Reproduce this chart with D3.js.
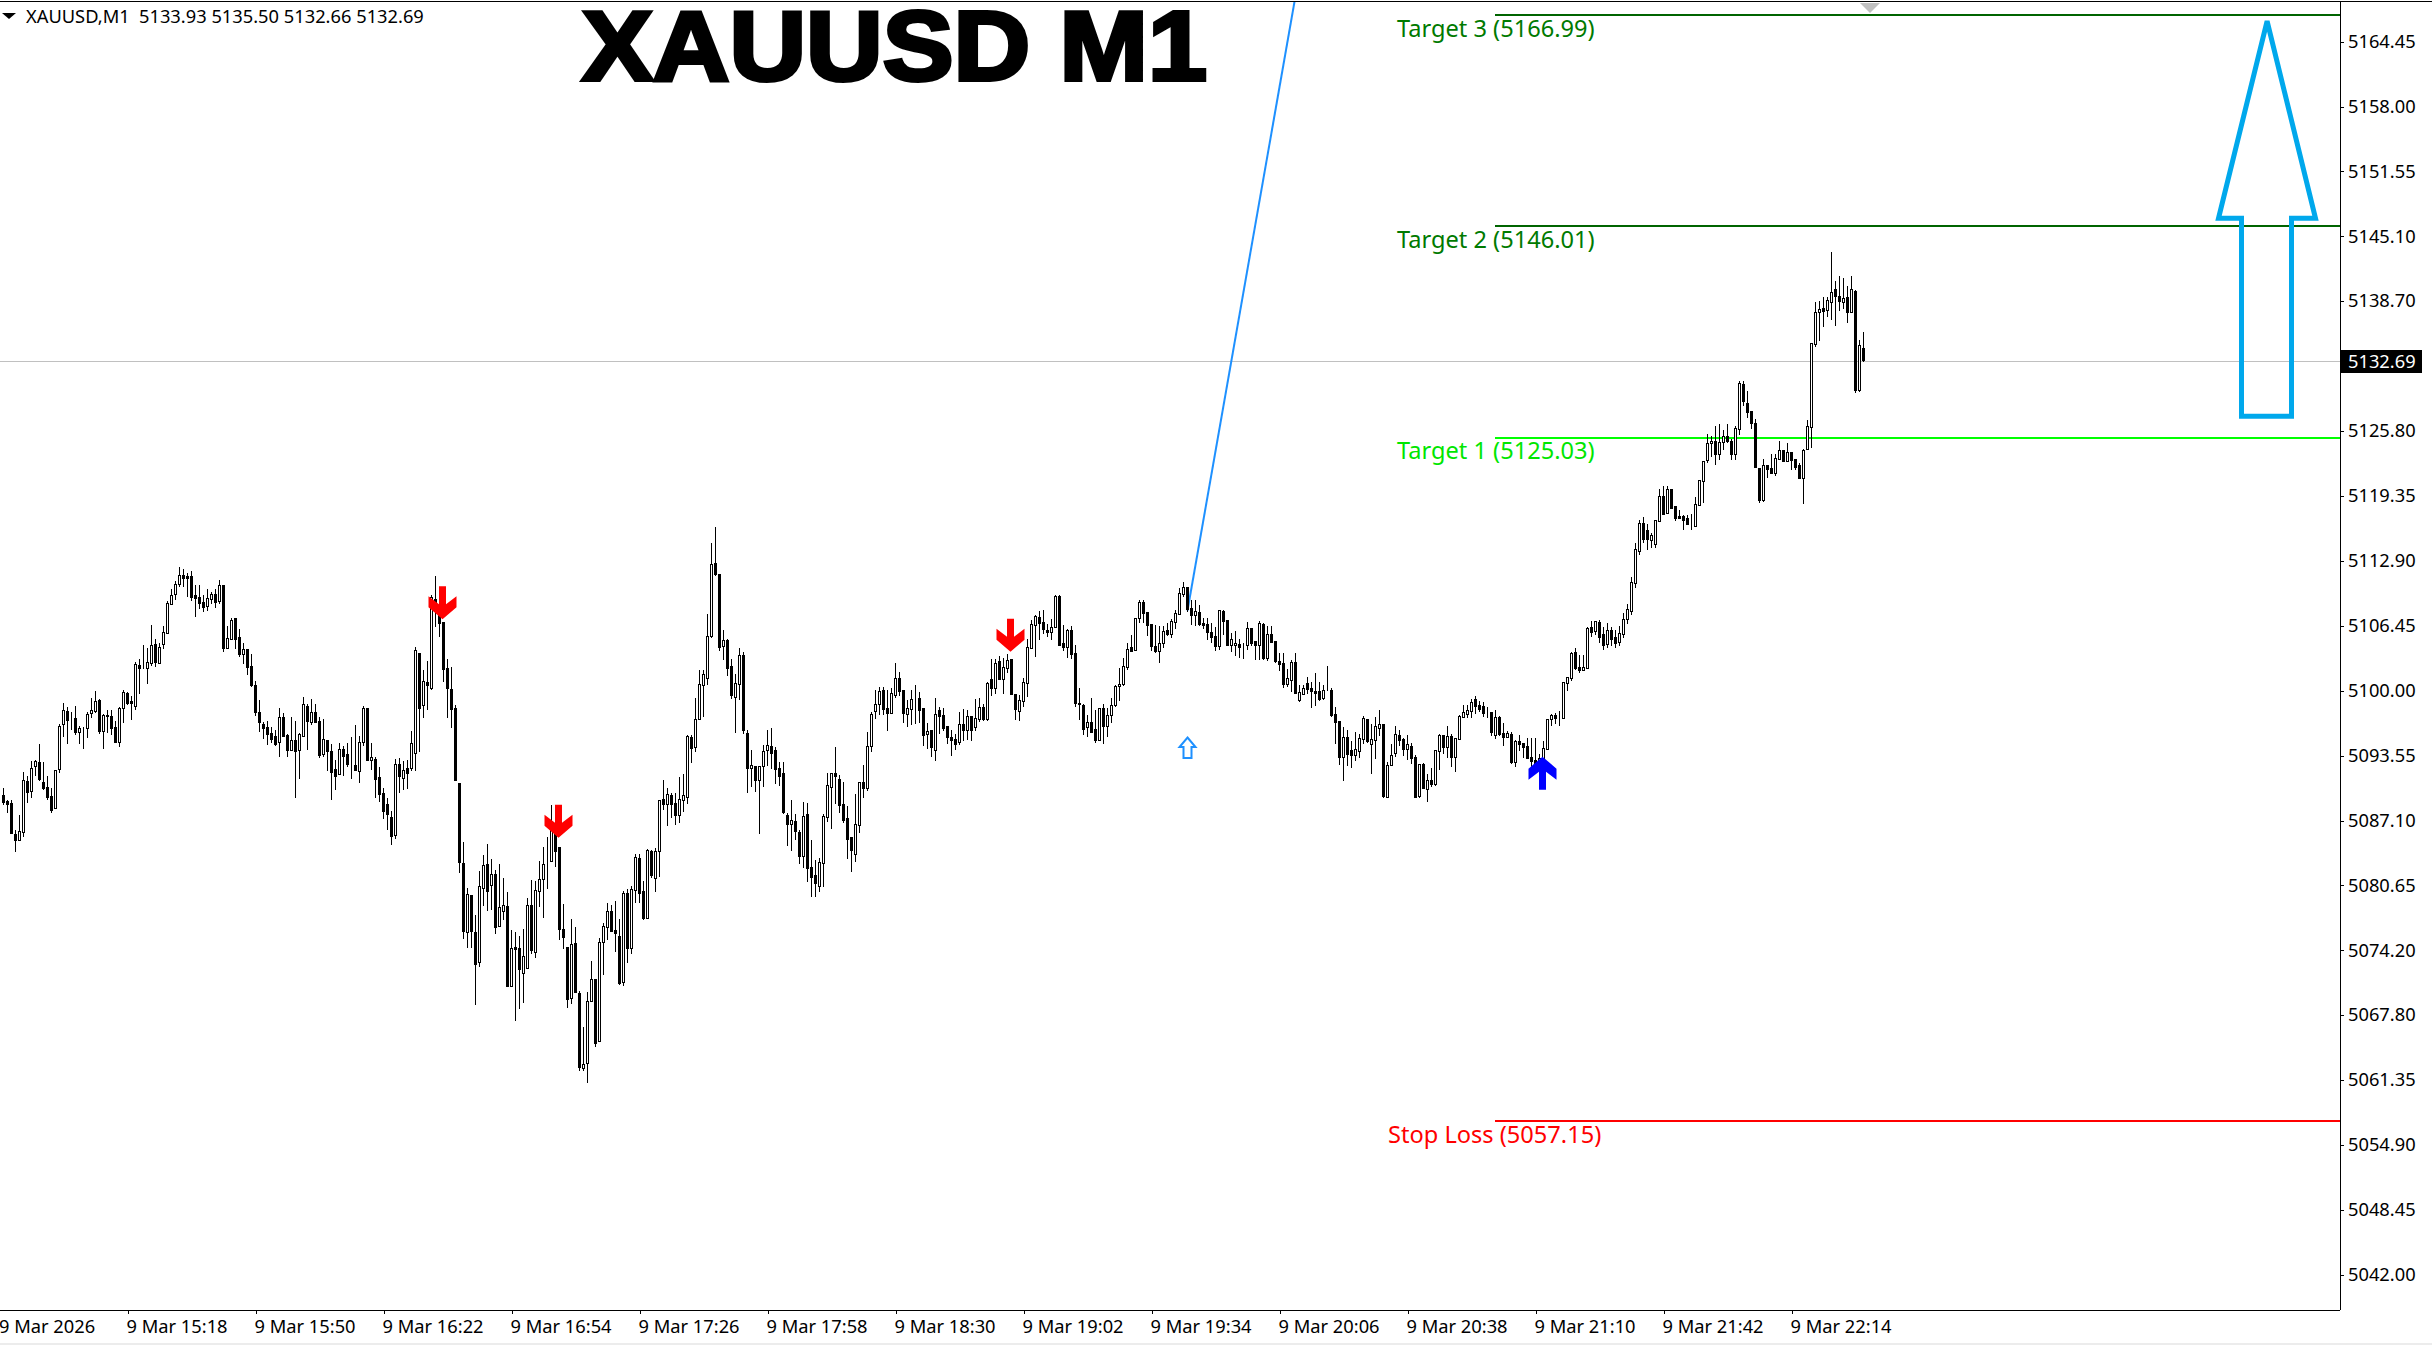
<!DOCTYPE html>
<html><head><meta charset="utf-8">
<script src="https://cdn.jsdelivr.net/npm/d3@7"></script>
<style>html,body{margin:0;padding:0;background:#fff;overflow:hidden}svg{display:block}text{font-family:"Noto Sans",sans-serif}</style>
</head><body><svg id="c" width="2432" height="1345"></svg>
<script>
const firstMinute = 886; // 14:46
const highs = [5089.5,
5090.2,5089.0,5089.0,5086.1,5087.5,5091.8,5091.4,5092.9,5093.0,5094.6,
5092.8,5091.4,5090.2,5092.0,5096.6,5098.7,5098.3,5097.8,5098.4,5096.4,
5096.3,5097.8,5099.2,5099.9,5099.1,5097.6,5098.0,5098.0,5096.9,5098.3,
5100.0,5099.8,5099.4,5102.7,5103.0,5104.4,5104.1,5106.4,5105.0,5104.6,
5106.3,5108.8,5110.0,5110.8,5112.2,5112.0,5111.6,5111.8,5110.4,5110.4,
5109.4,5110.0,5109.7,5110.0,5110.9,5110.4,5106.3,5107.1,5107.1,5106.0,
5104.6,5104.0,5103.5,5100.9,5099.0,5096.8,5096.9,5096.3,5096.0,5098.2,
5097.7,5095.6,5097.3,5096.9,5095.7,5099.3,5098.6,5099.1,5098.6,5097.3,
5097.1,5095.0,5094.6,5093.0,5094.7,5094.4,5094.7,5095.3,5096.5,5095.4,
5098.4,5098.2,5094.7,5093.3,5092.3,5090.2,5089.2,5087.9,5093.1,5093.2,
5092.9,5093.0,5095.9,5104.2,5103.6,5101.9,5102.8,5109.4,5111.3,5108.45,
5106.7,5103.0,5102.2,5098.5,5090.7,5084.9,5080.3,5079.6,5077.6,5082.0,
5083.6,5084.7,5083.2,5082.1,5082.7,5081.3,5079.9,5076.1,5075.9,5075.5,
5076.2,5079.3,5081.1,5081.0,5083.0,5084.4,5085.4,5088.5,5086.4,5084.4,
5078.7,5074.4,5077.2,5076.4,5070.1,5066.5,5070.0,5073.0,5071.3,5075.3,
5076.8,5078.8,5078.6,5079.0,5077.2,5080.0,5080.2,5080.5,5083.7,5083.7,
5081.0,5084.2,5084.1,5084.3,5089.0,5091.0,5090.2,5089.7,5089.7,5091.3,
5091.6,5095.5,5095.5,5099.2,5101.9,5101.9,5107.5,5114.6,5116.1,5111.5,
5105.9,5105.0,5103.0,5101.5,5104.1,5103.7,5096.0,5094.0,5092.4,5092.4,
5094.5,5096.0,5096.2,5094.3,5092.8,5092.8,5087.7,5089.0,5087.6,5086.1,
5088.8,5088.7,5085.1,5083.1,5083.3,5087.6,5091.7,5091.7,5094.3,5091.5,
5090.8,5088.4,5085.4,5089.6,5090.8,5092.5,5095.8,5097.8,5100.0,5100.3,
5100.3,5100.0,5100.2,5102.6,5101.7,5100.0,5099.0,5100.0,5100.5,5099.8,
5098.2,5096.7,5096.0,5099.2,5098.3,5098.2,5096.4,5096.0,5095.6,5097.8,
5098.1,5098.0,5097.4,5099.1,5099.2,5098.6,5100.8,5103.0,5103.0,5103.3,
5103.1,5103.5,5103.0,5099.6,5099.5,5101.2,5105.0,5106.9,5107.4,5107.8,
5107.9,5106.5,5107.0,5109.4,5109.4,5106.4,5106.0,5106.3,5104.4,5100.2,
5098.6,5097.5,5099.2,5098.0,5098.2,5098.6,5098.2,5099.2,5100.5,5102.1,
5103.1,5104.6,5105.4,5107.1,5108.9,5108.9,5107.7,5106.5,5106.4,5106.3,
5106.3,5106.6,5107.0,5107.9,5110.1,5110.7,5110.2,5108.9,5108.9,5108.4,
5107.1,5107.1,5106.65,5106.25,5107.9,5107.9,5106.95,5105.65,5105.85,5105.0,
5104.65,5106.75,5106.15,5104.85,5106.85,5106.65,5106.35,5106.35,5104.85,5103.65,
5103.65,5102.0,5102.9,5103.65,5100.5,5100.5,5101.3,5100.8,5101.6,5100.8,
5100.5,5102.3,5100.2,5098.3,5096.9,5096.3,5096.0,5094.85,5095.8,5095.6,
5097.4,5097.1,5096.6,5097.3,5098.0,5096.6,5092.85,5094.55,5096.4,5096.0,
5095.2,5095.45,5094.65,5093.55,5092.65,5092.75,5091.65,5092.25,5094.05,5095.55,
5095.45,5096.4,5095.6,5095.15,5097.5,5098.5,5098.5,5099.1,5099.4,5098.9,
5098.8,5098.3,5097.8,5098.0,5097.4,5096.7,5095.9,5095.8,5095.0,5095.5,
5094.65,5095.2,5095.2,5095.2,5093.65,5094.85,5097.1,5097.6,5097.7,5097.9,
5100.8,5101.3,5103.7,5104.1,5103.4,5103.4,5106.25,5106.85,5106.85,5106.95,
5106.2,5106.6,5106.2,5105.9,5106.3,5107.6,5108.5,5111.2,5114.6,5116.8,
5117.1,5116.4,5115.6,5116.8,5119.9,5120.2,5120.2,5119.9,5118.2,5117.8,
5117.3,5117.3,5117.4,5119.1,5120.8,5122.7,5125.4,5125.2,5126.2,5126.4,
5125.8,5126.4,5124.9,5126.2,5130.6,5130.6,5129.7,5127.7,5126.9,5122.0,
5122.9,5122.3,5123.4,5123.4,5124.7,5123.8,5124.5,5123.6,5122.9,5122.5,
5123.9,5126.8,5134.4,5138.5,5138.6,5139.0,5139.0,5143.5,5140.6,5141.1,
5140.9,5140.1,5141.1,5139.7,5134.7,5135.5];
const lows = [5085.6,
5088.6,5087.8,5085.8,5084.0,5085.1,5085.5,5088.8,5089.3,5091.5,5091.0,
5090.1,5089.1,5087.8,5088.2,5091.8,5095.4,5094.7,5096.1,5095.6,5094.7,
5094.2,5095.3,5097.3,5097.8,5095.7,5094.2,5095.8,5095.6,5094.8,5094.4,
5096.8,5098.6,5097.1,5098.1,5099.7,5102.1,5100.7,5102.4,5102.3,5102.6,
5104.1,5105.6,5108.5,5109.0,5110.3,5110.3,5109.3,5108.9,5107.3,5108.1,
5107.8,5107.9,5108.6,5108.2,5108.6,5103.8,5104.1,5105.0,5104.1,5103.3,
5102.6,5101.5,5100.4,5097.5,5095.9,5095.2,5094.6,5094.8,5094.5,5093.4,
5095.4,5093.4,5094.0,5089.3,5091.2,5095.4,5094.1,5096.6,5096.8,5093.3,
5093.4,5092.0,5089.1,5090.1,5091.6,5091.5,5092.4,5091.2,5092.0,5090.8,
5094.5,5093.0,5092.1,5089.3,5088.9,5087.2,5086.2,5084.7,5085.3,5089.8,
5090.1,5090.2,5092.0,5092.0,5093.9,5097.3,5098.1,5100.1,5106.3,5105.3,
5100.9,5097.3,5096.3,5091.0,5081.9,5075.3,5074.4,5074.4,5068.8,5072.6,
5078.6,5078.1,5078.2,5075.8,5076.5,5077.2,5070.6,5070.6,5067.2,5068.4,
5069.0,5072.4,5073.8,5073.4,5078.5,5077.4,5080.3,5083.0,5082.5,5075.2,
5074.3,5068.5,5068.9,5070.0,5062.2,5062.2,5061.0,5069.1,5064.6,5065.1,
5071.8,5075.2,5076.0,5074.0,5070.8,5070.7,5072.9,5073.8,5078.9,5078.9,
5077.2,5077.3,5081.4,5080.0,5081.5,5088.1,5086.6,5087.3,5086.7,5086.9,
5087.9,5088.7,5092.8,5093.9,5097.1,5097.4,5100.6,5105.2,5111.4,5103.9,
5103.0,5101.4,5099.2,5095.8,5099.1,5095.7,5089.8,5090.4,5089.9,5085.8,
5090.4,5092.5,5092.2,5090.7,5090.5,5087.7,5084.6,5084.1,5085.2,5082.8,
5082.4,5081.0,5079.5,5079.5,5080.0,5080.5,5087.0,5086.3,5088.7,5087.8,
5086.9,5083.3,5082.0,5083.0,5085.9,5089.3,5090.0,5093.9,5097.2,5097.6,
5097.6,5096.0,5097.7,5099.3,5099.5,5096.8,5096.4,5096.6,5096.7,5096.8,
5094.5,5094.2,5093.4,5093.0,5095.7,5096.0,5094.7,5093.5,5094.1,5094.6,
5095.0,5095.1,5095.0,5096.0,5096.9,5097.0,5097.0,5099.5,5099.7,5101.1,
5099.7,5101.7,5099.6,5097.1,5097.0,5098.4,5099.4,5104.1,5103.3,5105.0,
5105.6,5105.3,5105.0,5106.2,5104.4,5103.9,5103.2,5103.1,5098.4,5097.1,
5095.6,5095.4,5095.8,5094.8,5095.0,5094.7,5095.4,5096.8,5098.4,5099.0,
5100.5,5102.0,5103.8,5103.9,5106.7,5106.7,5105.4,5103.9,5103.7,5102.7,
5104.2,5105.4,5105.2,5106.1,5107.5,5109.3,5107.8,5106.5,5106.4,5106.4,
5106.15,5105.0,5104.7,5103.9,5104.0,5105.5,5104.4,5103.8,5103.4,5103.2,
5103.1,5104.05,5104.4,5103.0,5103.0,5103.0,5102.9,5104.75,5102.7,5101.9,
5100.3,5100.4,5099.9,5099.7,5098.9,5099.6,5099.7,5098.3,5098.5,5099.0,
5099.1,5100.0,5097.4,5094.7,5092.65,5091.05,5092.55,5092.35,5093.05,5093.35,
5094.65,5094.75,5091.75,5093.25,5095.45,5089.35,5089.35,5092.55,5093.45,5094.45,
5093.55,5093.15,5092.75,5089.35,5089.35,5090.25,5088.95,5090.45,5090.55,5092.15,
5093.75,5093.35,5092.45,5091.95,5095.05,5097.3,5097.3,5097.3,5097.7,5097.9,
5097.4,5097.3,5095.45,5095.2,5095.5,5094.45,5095.3,5092.75,5092.45,5094.05,
5093.35,5093.25,5092.45,5092.55,5092.4,5092.7,5094.1,5096.5,5096.7,5096.5,
5097.2,5100.0,5101.0,5102.0,5101.7,5101.9,5102.1,5105.35,5105.55,5104.75,
5104.0,5104.2,5104.4,5104.2,5104.4,5105.2,5106.6,5107.5,5110.2,5113.5,
5114.7,5114.0,5114.2,5114.2,5116.7,5117.4,5117.5,5118.0,5116.8,5117.0,
5115.9,5116.4,5115.9,5116.2,5118.3,5118.6,5122.6,5123.2,5122.4,5122.9,
5123.9,5124.6,5122.9,5122.9,5125.4,5128.3,5127.1,5126.0,5122.1,5118.6,
5118.7,5121.1,5121.5,5121.3,5122.9,5122.7,5122.7,5121.9,5121.9,5121.0,
5118.5,5123.9,5124.1,5134.1,5134.7,5136.1,5137.1,5136.8,5136.2,5137.7,
5137.9,5136.5,5137.5,5129.6,5129.7,5132.66];
const opens = [5089.5,
5089.5,5088.9,5088.7,5085.7,5085.1,5085.9,5090.9,5089.9,5092.4,5092.8,
5090.8,5090.3,5089.4,5088.2,5092.1,5096.6,5097.9,5097.2,5097.2,5095.8,
5096.1,5096.2,5097.7,5097.9,5099.0,5095.9,5097.5,5097.4,5096.3,5094.8,
5098.2,5099.7,5098.9,5098.4,5102.4,5102.2,5102.1,5102.6,5104.5,5102.6,
5104.5,5105.6,5108.5,5109.5,5110.5,5111.4,5111.3,5111.3,5109.4,5109.2,
5108.7,5108.3,5109.0,5109.5,5108.8,5110.4,5104.1,5105.0,5107.1,5105.2,
5103.5,5104.0,5102.3,5100.5,5097.8,5096.6,5096.3,5095.7,5095.4,5094.8,
5097.3,5095.5,5094.0,5095.0,5094.0,5095.4,5098.4,5096.8,5097.8,5096.9,
5093.6,5095.0,5093.9,5092.1,5091.6,5094.1,5093.6,5092.6,5092.5,5091.9,
5094.8,5098.2,5093.0,5093.1,5091.3,5089.7,5088.6,5087.3,5085.6,5092.6,
5091.2,5092.2,5092.2,5093.7,5103.6,5098.5,5100.8,5100.2,5109.0,5108.45,
5106.7,5102.1,5100.1,5098.2,5090.7,5082.8,5075.9,5079.6,5075.9,5072.9,
5080.3,5082.7,5080.6,5081.7,5076.5,5078.0,5078.5,5070.6,5074.4,5074.3,
5071.9,5072.4,5078.6,5073.9,5080.0,5081.2,5082.6,5083.0,5085.8,5084.4,
5076.2,5074.4,5069.4,5074.8,5069.9,5062.4,5062.9,5069.1,5071.3,5065.1,
5074.9,5076.4,5078.0,5076.1,5075.5,5071.0,5079.8,5074.3,5080.1,5083.3,
5080.0,5077.3,5084.0,5081.3,5084.0,5089.1,5088.6,5089.5,5088.7,5087.5,
5089.0,5089.3,5095.3,5094.3,5097.1,5100.5,5101.2,5105.3,5112.6,5111.5,
5104.3,5104.9,5102.3,5099.3,5100.6,5103.4,5095.7,5092.2,5092.4,5091.0,
5092.4,5094.0,5094.4,5094.0,5092.2,5091.7,5087.5,5086.7,5087.0,5085.9,
5083.5,5087.6,5082.4,5081.6,5080.5,5082.8,5087.3,5090.3,5091.7,5091.1,
5088.6,5087.2,5085.4,5083.7,5086.6,5090.8,5090.2,5094.4,5097.9,5098.6,
5100.0,5098.2,5097.7,5099.5,5101.2,5100.0,5097.6,5098.1,5099.1,5099.2,
5098.2,5095.6,5096.0,5094.0,5098.0,5097.5,5096.4,5095.3,5095.1,5094.8,
5096.6,5096.0,5097.4,5096.3,5097.1,5098.3,5097.1,5101.1,5100.2,5102.8,
5101.1,5102.1,5103.0,5099.6,5097.9,5098.9,5100.7,5104.1,5106.4,5107.2,
5106.7,5105.9,5105.7,5106.2,5109.3,5104.6,5104.2,5105.9,5103.6,5098.7,
5098.5,5096.3,5096.8,5096.1,5095.0,5098.2,5096.4,5097.5,5098.5,5100.4,
5100.6,5102.2,5104.2,5103.9,5107.1,5108.7,5107.7,5106.5,5104.3,5103.8,
5104.6,5105.9,5105.5,5106.7,5107.5,5109.5,5110.2,5108.1,5107.4,5107.7,
5106.65,5106.55,5105.75,5105.35,5104.3,5107.85,5106.95,5104.4,5104.4,5104.55,
5104.4,5104.4,5106.15,5104.85,5104.45,5106.55,5103.1,5105.55,5104.85,5102.8,
5102.6,5100.6,5101.0,5102.7,5099.0,5099.6,5100.7,5100.2,5099.9,5099.9,
5099.2,5100.0,5100.0,5097.6,5096.9,5093.3,5095.3,5094.0,5093.55,5093.9,
5095.1,5097.1,5094.55,5095.0,5096.2,5096.6,5089.35,5092.55,5093.75,5095.5,
5095.05,5094.15,5094.35,5093.35,5089.45,5092.65,5090.15,5091.05,5090.65,5093.95,
5095.45,5094.25,5095.35,5093.35,5095.05,5097.3,5097.6,5097.9,5099.1,5098.5,
5098.4,5097.8,5097.8,5095.5,5097.3,5095.7,5095.3,5095.6,5092.85,5094.85,
5094.65,5094.35,5093.35,5093.05,5092.7,5093.25,5094.1,5097.1,5097.5,5097.3,
5097.2,5100.7,5101.2,5103.7,5102.2,5101.9,5102.1,5106.25,5105.85,5106.75,
5105.5,5104.5,5105.9,5105.2,5104.7,5105.5,5107.0,5107.8,5110.6,5113.8,
5116.5,5115.8,5114.9,5114.5,5116.7,5119.2,5117.5,5119.9,5118.2,5117.2,
5117.2,5117.0,5116.5,5116.2,5118.3,5120.7,5122.8,5124.5,5124.7,5123.4,
5124.6,5125.2,5124.7,5123.4,5125.9,5130.3,5128.5,5127.7,5126.5,5122.0,
5118.8,5122.3,5122.0,5121.5,5122.9,5123.8,5122.7,5123.6,5122.9,5122.3,
5121.0,5123.9,5126.1,5134.3,5137.5,5137.9,5137.7,5138.5,5139.8,5139.1,
5138.5,5139.0,5137.5,5139.6,5129.8,5133.93];
const closes = [5089.5,
5088.8,5088.6,5085.8,5085.1,5086.0,5091.0,5089.8,5092.2,5092.9,5091.1,
5090.2,5089.3,5088.0,5092.0,5096.4,5098.0,5097.0,5097.2,5095.8,5096.2,
5096.1,5097.6,5098.0,5098.9,5095.9,5097.5,5097.4,5096.2,5094.8,5098.2,
5099.8,5098.7,5098.7,5102.5,5102.1,5102.2,5102.7,5104.4,5102.7,5104.2,
5105.7,5108.6,5109.4,5110.5,5111.4,5111.1,5111.1,5109.2,5109.1,5108.6,
5108.2,5109.1,5109.5,5108.7,5110.4,5104.1,5105.1,5106.9,5105.0,5103.5,
5104.0,5102.2,5100.5,5097.8,5096.8,5096.2,5095.6,5095.1,5094.6,5097.3,
5095.4,5094.0,5095.0,5093.9,5095.6,5098.6,5096.9,5097.8,5096.8,5093.5,
5095.1,5093.9,5091.8,5091.4,5094.1,5093.4,5092.6,5092.6,5092.0,5094.8,
5098.2,5093.0,5093.3,5091.1,5089.6,5087.9,5087.6,5085.5,5092.6,5091.4,
5092.0,5091.7,5094.7,5103.9,5098.2,5100.9,5100.5,5109.2,5108.0,5106.6,
5102.0,5100.2,5098.1,5091.0,5082.9,5076.0,5079.7,5076.0,5072.8,5080.5,
5082.6,5080.0,5081.7,5076.4,5078.4,5078.6,5070.6,5074.3,5074.2,5072.3,
5073.5,5078.6,5074.1,5080.1,5081.2,5082.7,5082.6,5086.1,5084.0,5076.2,
5075.4,5069.3,5074.7,5070.0,5062.5,5062.8,5069.1,5071.3,5064.9,5074.9,
5076.5,5078.0,5076.0,5075.8,5070.9,5079.8,5074.3,5080.2,5083.4,5079.8,
5077.3,5084.1,5081.6,5084.0,5089.0,5088.6,5089.6,5088.6,5087.5,5089.1,
5089.5,5095.4,5094.2,5097.1,5100.6,5101.5,5105.3,5112.5,5111.5,5104.2,
5104.9,5102.1,5099.5,5100.7,5103.4,5096.0,5092.2,5092.5,5091.0,5092.4,
5093.9,5094.5,5093.7,5092.1,5091.4,5087.8,5086.7,5087.1,5086.0,5083.5,
5087.4,5082.3,5081.4,5080.8,5082.9,5087.4,5090.5,5091.7,5091.4,5088.5,
5087.1,5085.2,5084.1,5086.7,5090.8,5090.2,5094.4,5097.6,5098.6,5099.9,
5098.1,5097.7,5099.7,5101.2,5099.9,5097.7,5098.2,5099.1,5099.1,5098.0,
5095.5,5095.9,5094.3,5097.6,5097.4,5096.2,5095.3,5095.0,5094.6,5096.6,
5096.0,5097.4,5096.0,5097.2,5098.3,5097.1,5100.7,5100.2,5102.6,5101.1,
5102.2,5102.9,5099.6,5098.1,5099.0,5100.8,5104.2,5106.5,5107.3,5106.6,
5106.0,5105.7,5106.2,5109.3,5104.4,5104.2,5105.9,5103.5,5098.7,5098.6,
5096.1,5096.8,5095.8,5095.0,5098.2,5096.4,5097.5,5098.5,5100.4,5100.6,
5102.3,5104.0,5103.8,5107.1,5108.7,5107.6,5106.4,5104.3,5103.8,5104.6,
5105.8,5105.5,5106.8,5107.6,5109.6,5110.2,5108.0,5107.4,5107.8,5106.5,
5106.45,5105.7,5105.2,5104.3,5107.9,5106.85,5104.4,5105.05,5104.65,5104.25,
5104.4,5106.15,5104.65,5104.4,5106.65,5103.1,5105.55,5104.75,5102.8,5102.5,
5100.6,5101.2,5102.7,5099.7,5099.8,5100.2,5100.1,5099.9,5099.7,5099.1,
5100.0,5100.0,5097.5,5096.8,5093.3,5095.3,5093.65,5093.55,5094.1,5095.2,
5097.2,5094.85,5095.1,5096.4,5096.6,5089.45,5092.55,5093.55,5095.6,5094.95,
5094.15,5094.55,5093.25,5089.35,5092.65,5090.25,5091.05,5090.65,5094.05,5095.45,
5094.25,5095.35,5093.35,5095.15,5097.4,5097.8,5098.0,5098.8,5098.4,5098.1,
5097.7,5097.8,5095.8,5097.3,5095.6,5095.3,5095.7,5092.85,5094.85,5094.55,
5094.25,5093.25,5092.95,5092.7,5093.25,5094.2,5097.1,5097.5,5097.2,5097.3,
5100.8,5101.3,5103.6,5102.1,5101.9,5102.2,5106.15,5105.75,5106.85,5105.2,
5104.4,5105.9,5105.0,5104.6,5105.6,5107.0,5108.0,5110.7,5114.0,5116.5,
5115.0,5115.0,5115.4,5116.8,5119.2,5117.4,5119.9,5118.0,5117.0,5117.0,
5116.8,5116.4,5116.5,5118.4,5120.8,5122.7,5124.5,5124.7,5123.4,5124.6,
5125.2,5124.7,5123.4,5126.0,5130.4,5128.7,5127.6,5126.5,5122.1,5118.8,
5122.3,5121.9,5121.5,5123.0,5123.8,5122.7,5123.6,5122.8,5122.1,5121.0,
5123.8,5126.2,5134.4,5137.5,5137.8,5137.6,5138.7,5139.5,5139.1,5138.6,
5138.9,5137.5,5139.8,5129.8,5134.2,5132.69];

const priceTicks = ["5164.45","5158.00","5151.55","5145.10","5138.70","5132.25","5125.80","5119.35","5112.90","5106.45","5100.00","5093.55","5087.10","5080.65","5074.20","5067.80","5061.35","5054.90","5048.45","5042.00"];
const timeTickMinutes = [918,950,982,1014,1046,1078,1110,1142,1174,1206,1238,1270,1302,1334];
const timeTickLabels = ["9 Mar 15:18","9 Mar 15:50","9 Mar 16:22","9 Mar 16:54","9 Mar 17:26","9 Mar 17:58","9 Mar 18:30","9 Mar 19:02","9 Mar 19:34","9 Mar 20:06","9 Mar 20:38","9 Mar 21:10","9 Mar 21:42","9 Mar 22:14"];
const levelNames = ["Target 3","Target 2","Target 1","Stop Loss"];
const levelPrices = [5166.99,5146.01,5125.03,5057.15];
const levelColors = ["#006400","#006400","#00ff00","#ff0000"];
const levelTextColors = ["#007a00","#007a00","#00e600","#ff0000"];
const levelStartMinute = 1259.9;
const lastPrice = 5132.69;
const quote = ["5133.93","5135.50","5132.66","5132.69"];
const sellSignalMinutes = [997,1026,1139];
const sellSignalPrices = [5107.03,5085.34,5103.81];
const buySignalMinute = 1272;
const buySignalPrice = 5093.39;
const trendMinutes = [1183,1209.9];
const trendPrices = [5107.9,5168.7];
const hollowArrow = [1183,5094.25];
const bigArrowMinutes = [1452.9,1465,1459,1459,1446.5,1446.5,1440.75];
const bigArrowPrices = [5166.44,5146.85,5146.85,5127.2,5127.2,5146.85,5146.85];

const W=2432,H=1345,axisX=2340,axisY=1310,topY=2;
const fontSize=18.3;
const x=d3.scaleLinear().domain([887,1387]).range([3.5,2003.5]);
const y=d3.scaleLinear().domain([5166.99,5057.15]).range([15.5,1121.6]);
const cy=p=>Math.round(y(p)-0.5)+0.5;
const bars=opens.map((o,i)=>({m:firstMinute+i,o,h:highs[i],l:lows[i],c:closes[i]}));

const svg=d3.select("#c");
svg.append("rect").attr("width",W).attr("height",H).attr("fill","#fff");
svg.append("defs").append("clipPath").attr("id","plot").append("rect").attr("x",0).attr("y",topY).attr("width",axisX).attr("height",axisY-topY);
const plot=svg.append("g").attr("clip-path","url(#plot)");

// last price line
plot.append("line").attr("x1",0).attr("x2",axisX).attr("y1",cy(lastPrice)+1).attr("y2",cy(lastPrice)+1).attr("stroke","#c0c0c0").attr("stroke-width",1).attr("shape-rendering","crispEdges");
// level lines
plot.selectAll(".lvl").data(levelPrices).join("rect").attr("class","lvl")
  .attr("x",x(levelStartMinute)).attr("width",axisX-x(levelStartMinute))
  .attr("y",d=>Math.floor(y(d))-1).attr("height",(d,i)=>i==3?1.5:2)
  .attr("fill",(d,i)=>levelColors[i]).attr("shape-rendering","crispEdges");

// trend line
plot.append("line").attr("x1",x(trendMinutes[0])).attr("y1",y(trendPrices[0])).attr("x2",x(trendMinutes[1])).attr("y2",y(trendPrices[1])).attr("stroke","#1e90ff").attr("stroke-width",2);

// candles
const g=plot.append("g").attr("shape-rendering","crispEdges");
g.selectAll("line.w").data(bars).join("line").attr("class","w")
 .attr("x1",d=>x(d.m)).attr("x2",d=>x(d.m)).attr("y1",d=>cy(d.h)-0.5).attr("y2",d=>cy(d.l)+0.5).attr("stroke","#000");
g.selectAll("rect.b").data(bars).join("rect").attr("class","b")
 .attr("x",d=>x(d.m)-1).attr("width",2)
 .attr("y",d=>cy(Math.max(d.o,d.c))).attr("height",d=>cy(Math.min(d.o,d.c))-cy(Math.max(d.o,d.c)))
 .attr("fill",d=>d.c>d.o?"#fff":"#000").attr("stroke","#000").attr("stroke-width",1);

// signal arrows
function downArrow(c,t){return [[c-3.5,t-33],[c+3.5,t-33],[c+3.5,t-15],[c+14,t-23],[c+14,t-12],[c,t],[c-14,t-12],[c-14,t-23],[c-3.5,t-15]];}
function upArrow(c,t){return [[c-3.5,t+33],[c+3.5,t+33],[c+3.5,t+15],[c+14,t+23],[c+14,t+12],[c,t],[c-14,t+12],[c-14,t+23],[c-3.5,t+15]];}
plot.selectAll(".sell").data(sellSignalMinutes).join("polygon").attr("class","sell").attr("fill","#ff0000")
 .attr("points",(m,i)=>downArrow(x(m)-1,y(sellSignalPrices[i])).join(" "));
plot.append("polygon").attr("fill","#0000ff").attr("points",upArrow(x(buySignalMinute)-1,y(buySignalPrice)).join(" "));
// small hollow arrow
(function(){const c=x(hollowArrow[0]),m=y(hollowArrow[1]);
 const pts=[[c,m-10.5],[c+8,m-1],[c+4,m-1],[c+4,m+10],[c-4,m+10],[c-4,m-1],[c-8,m-1]];
 plot.append("polygon").attr("points",pts.join(" ")).attr("fill","#fff").attr("stroke","#1e90ff").attr("stroke-width",2);})();
// large outlined arrow
plot.append("polygon").attr("points",bigArrowMinutes.map((m,i)=>[x(m),y(bigArrowPrices[i])]).join(" "))
 .attr("fill","none").attr("stroke","#00a8ec").attr("stroke-width",5).attr("stroke-linejoin","miter");

// level labels
svg.selectAll(".lab").data(levelNames).join("text").attr("class","lab")
 .attr("x",(d,i)=>i==3?1388:1397).attr("y",(d,i)=>y(levelPrices[i])+21)
 .attr("font-size",23.6).attr("fill",(d,i)=>levelTextColors[i])
 .text((d,i)=>d+" ("+levelPrices[i].toFixed(2)+")");

// title
svg.append("text").attr("x",582).attr("y",80).attr("font-size",98).attr("font-weight",900)
 .attr("stroke","#000").attr("stroke-width",4).style("font-family","'Liberation Sans',sans-serif").attr("fill","#000")
 .attr("textLength",625).attr("lengthAdjust","spacingAndGlyphs").text("XAUUSD M1");

// frame
const fr=svg.append("g").attr("shape-rendering","crispEdges").attr("stroke","#000");
fr.append("line").attr("x1",0).attr("x2",W).attr("y1",1.5).attr("y2",1.5);
fr.append("line").attr("x1",axisX+.5).attr("x2",axisX+.5).attr("y1",1).attr("y2",axisY);
fr.append("line").attr("x1",0).attr("x2",axisX).attr("y1",axisY+.5).attr("y2",axisY+.5);
svg.append("rect").attr("x",0).attr("y",1343).attr("width",W).attr("height",2).attr("fill","#ececec");

// price axis
const yAxis=d3.axisRight(y).tickValues(priceTicks.map(Number)).tickSize(4).tickPadding(4).tickFormat((d,i)=>priceTicks[i]);
const ay=svg.append("g").attr("transform",`translate(${axisX},0.5)`).call(yAxis);
ay.select(".domain").remove();
ay.selectAll("line").attr("stroke","#000").attr("shape-rendering","crispEdges");
ay.selectAll("text").attr("font-size",fontSize).attr("fill","#000").style("font-family","'Noto Sans',sans-serif");
ay.selectAll(".tick").filter(d=>d===5132.25).select("text").remove();

// last price tag
svg.append("rect").attr("x",2341).attr("y",350).attr("width",81).attr("height",23).attr("fill","#000");
svg.append("text").attr("x",2348).attr("y",368).attr("font-size",fontSize).attr("fill","#fff").text(lastPrice.toFixed(2));

// time axis
const xAxis=d3.axisBottom(x).tickValues(timeTickMinutes).tickSize(3).tickPadding(6).tickFormat((d,i)=>timeTickLabels[i]);
const ax=svg.append("g").attr("transform",`translate(0,${axisY+1})`).call(xAxis);
ax.select(".domain").remove();
ax.selectAll("line").attr("stroke","#000").attr("shape-rendering","crispEdges");
ax.selectAll("text").attr("font-size",fontSize).attr("fill","#000").attr("text-anchor","start").attr("dx",-1.5).style("font-family","'Noto Sans',sans-serif");
svg.append("text").attr("x",-1).attr("y",1333).attr("font-size",fontSize).attr("fill","#000").text("9 Mar 2026");

// header
svg.append("polygon").attr("points","2,13 16,13 9,19").attr("fill","#000");
svg.append("text").attr("x",26).attr("y",23).attr("font-size",fontSize).attr("fill","#000").text("XAUUSD,M1");
svg.append("text").attr("x",139).attr("y",23).attr("font-size",fontSize).attr("fill","#000").text(quote.join(" "));
// shift marker
svg.append("polygon").attr("points","1860,3 1880,3 1870,13").attr("fill","#c0c0c0");
</script></body></html>
